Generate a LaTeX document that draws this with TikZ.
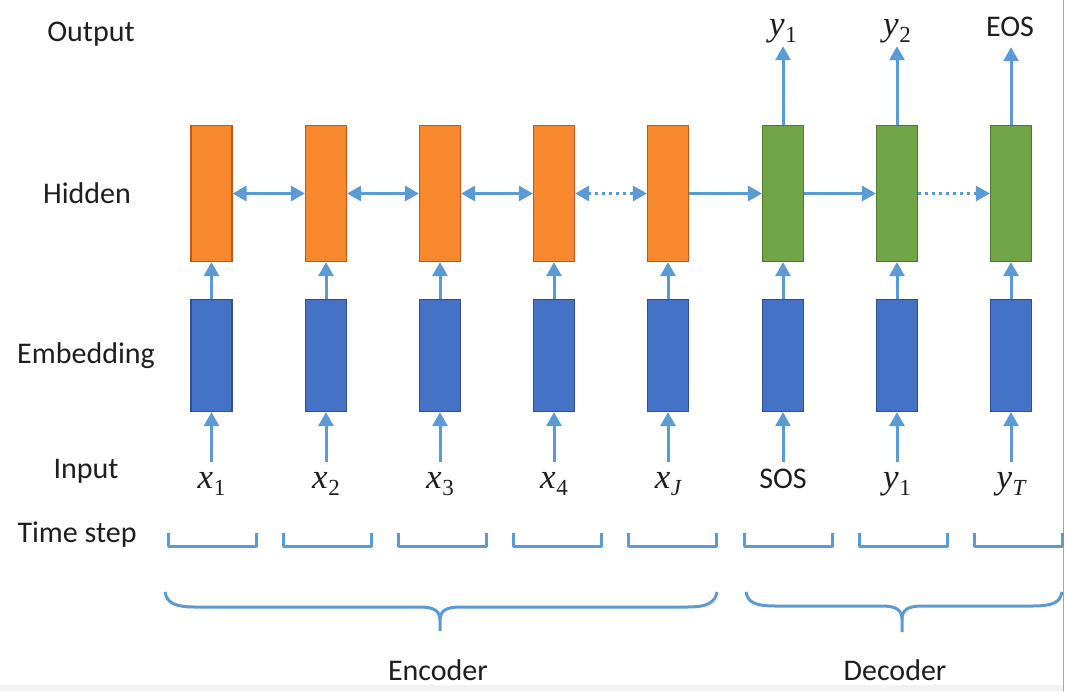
\documentclass[tikz,border=0pt]{standalone}
\usepackage{fontspec}
\setmainfont{Carlito}
\newfontfamily\vfont{Liberation Serif}
\newcommand\subvar[2]{{\vfont\itshape #1}\kern0.5pt\raisebox{-7pt}{\fontsize{23}{26}\selectfont\vfont #2}}
\usetikzlibrary{arrows.meta}
\definecolor{orF}{HTML}{F8882E}
\definecolor{orB}{HTML}{C65911}
\definecolor{grF}{HTML}{70A446}
\definecolor{grB}{HTML}{4E7A2E}
\definecolor{blF}{HTML}{4472C4}
\definecolor{blB}{HTML}{2F528F}
\definecolor{arrc}{HTML}{5B9BD5}
\definecolor{txt}{HTML}{1E1E1E}
\tikzset{
 hbox/.style={draw=orB, fill=orF, line width=1.2pt, minimum width=41pt, minimum height=136pt, inner sep=0pt},
 dbox/.style={hbox, draw=grB, fill=grF},
 ebox/.style={draw=blB, fill=blF, line width=1.2pt, minimum width=41pt, minimum height=112pt, inner sep=0pt},
 conn/.style={draw=arrc, line width=3pt, -{Triangle[length=14pt,width=15pt]}},
 biconn/.style={draw=arrc, line width=3pt, {Triangle[length=14pt,width=15pt]}-{Triangle[length=14pt,width=15pt]}},
 dotc/.style={dash pattern=on 3pt off 4pt},
 rowlab/.style={font=\fontsize{30}{36}\selectfont, text=txt, anchor=base, inner sep=0pt},
 inlab/.style={font=\fontsize{35}{40}\selectfont, text=txt, anchor=base, text height=24pt, text depth=9pt, inner sep=2pt},
 tick/.style={draw=arrc, line width=3pt, line join=round},
}
\begin{document}
\begin{tikzpicture}[x=1pt,y=-1pt]
\useasboundingbox (0,0) rectangle (1065,691);
\fill[black!5] (0,685) rectangle (1063,691);
\draw[gray!70, line width=1.2pt] (1063.5,0) -- (1063.5,691);

% row labels
\node[rowlab] (lout) at (91,41) {Output};
\node[rowlab] (lhid) at (87,203) {Hidden};
\node[rowlab] (lemb) at (86,363) {Embedding};
\node[rowlab] (linp) at (86,478) {Input};
\node[rowlab] (lts) at (77,542) {Time step};
\node[rowlab] (lenc) at (438,680) {Encoder};
\node[rowlab] (ldec) at (895,680) {Decoder};

% hidden boxes
\foreach \i/\x in {1/211.5,2/326,3/440,4/554,5/668}
  \node[hbox] (h\i) at (\x,193.5) {};
\foreach \i/\x in {6/783,7/897,8/1011}
  \node[dbox] (h\i) at (\x,193.5) {};
% embedding boxes
\foreach \i/\x in {1/211.5,2/326,3/440,4/554,5/668,6/783,7/897,8/1011}
  \node[ebox] (e\i) at (\x,355.5) {};

% input labels
\node[inlab] (in1) at (211.5,488) {\subvar{x}{1}};
\node[inlab] (in2) at (326,488) {\subvar{x}{2}};
\node[inlab] (in3) at (440,488) {\subvar{x}{3}};
\node[inlab] (in4) at (554,488) {\subvar{x}{4}};
\node[inlab] (in5) at (668,488) {\subvar{x}{\itshape J}};
\node[inlab] (in6) at (783,488) {\fontsize{30}{36}\selectfont SOS};
\node[inlab] (in7) at (897,488) {\subvar{y}{1}};
\node[inlab] (in8) at (1011,488) {\subvar{y}{\itshape T}};

% output labels
\node[inlab] (out6) at (783,35) {\subvar{y}{1}};
\node[inlab] (out7) at (897,35) {\subvar{y}{2}};
\node[inlab] (out8) at (1010,36) {\fontsize{30}{36}\selectfont EOS};

% vertical connectors
\foreach \i in {1,...,8} {
  \draw[conn] (e\i.south |- in\i.north) -- (e\i.south);
  \draw[conn] (e\i) -- (h\i);
}
\foreach \i in {6,7,8}
  \draw[conn] (h\i) -- (h\i.north |- out\i.south);

% horizontal connectors
\draw[biconn] (h1) -- (h2);
\draw[biconn] (h2) -- (h3);
\draw[biconn] (h3) -- (h4);
\draw[biconn, dotc] (h4) -- (h5);
\draw[conn] (h5) -- (h6);
\draw[conn] (h6) -- (h7);
\draw[conn, dotc] (h7) -- (h8);

% time-step brackets
\foreach \i in {0,...,7} {
  \pgfmathsetmacro\c{212+115.2*\i}
  \draw[tick] (\c-44,533) -- (\c-44,546) -- (\c+44,546) -- (\c+44,533);
}

% braces
\draw[tick] (165,592) .. controls (167,603) and (175,607) .. (195,607) -- (420,607)
  .. controls (434,607) and (440,611) .. (440,620) -- (440,631);
\draw[tick] (717,592) .. controls (715,603) and (707,607) .. (687,607) -- (460,607)
  .. controls (446,607) and (440,611) .. (440,620);
\draw[tick] (746,592) .. controls (748,603) and (756,606) .. (776,606) -- (882,606)
  .. controls (896,606) and (902,610) .. (902,619) -- (902,632);
\draw[tick] (1062,592) .. controls (1060,603) and (1052,606) .. (1032,606) -- (922,606)
  .. controls (908,606) and (902,610) .. (902,619);
\end{tikzpicture}
\end{document}
